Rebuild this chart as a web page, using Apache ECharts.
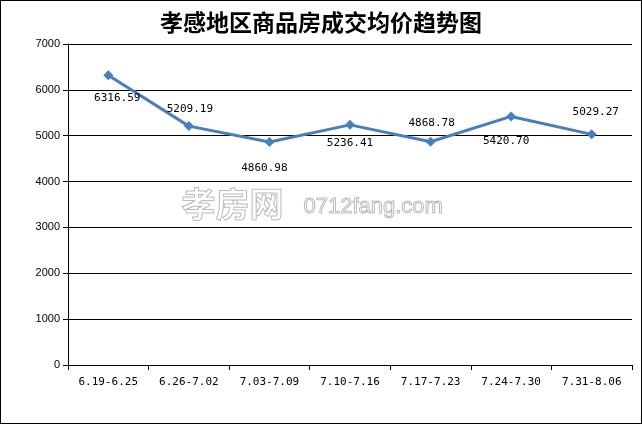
<!DOCTYPE html>
<html><head><meta charset="utf-8">
<script src="https://cdn.jsdelivr.net/npm/echarts@6/dist/echarts.min.js"></script>
<style>html,body{margin:0;padding:0;background:#fff}#c{width:642px;height:424px;box-sizing:border-box;border:1px solid #000}</style>
</head><body><div id="c"></div>
<script>
const categories = ['6.19-6.25','6.26-7.02','7.03-7.09','7.10-7.16','7.17-7.23','7.24-7.30','7.31-8.06'];
const prices = [6316.59, 5209.19, 4860.98, 5236.41, 4868.78, 5420.70, 5029.27];
const yTicks = [0,1000,2000,3000,4000,5000,6000,7000];
const labelPlace = [['bottom',[9,4]],['top',[1,2]],['bottom',[-5,8]],['bottom',[0,0]],['top',[1,0]],['bottom',[-5,6]],['top',[4,-4]]];

const chart = echarts.init(document.getElementById('c'), null, {renderer:'canvas'});
const mono = 'DejaVu Sans Mono';
chart.setOption({
  animation:false,
  backgroundColor:'#fff',
  title:{text:'孝感地区商品房成交均价趋势图', left:'center', top:5,
    textStyle:{fontFamily:'Noto Sans CJK SC', fontSize:23, fontWeight:'bold', color:'#000'}},
  graphic:[
    {type:'text', left:180, top:186, z:-1, style:{text:'孝房网', fontFamily:'Noto Sans CJK SC', fontSize:34, fontWeight:'bold', fill:'rgba(0,0,0,0)', stroke:'#bbb', lineWidth:1}},
    {type:'text', left:302, top:194, z:-1, style:{text:'0712fang.com', fontFamily:'Liberation Sans', fontSize:22, fill:'rgba(0,0,0,0)', stroke:'#bbb', lineWidth:1}}
  ],
  grid:{left:67, right:9, top:43, bottom:58},
  xAxis:{type:'category', data:categories, boundaryGap:true,
    axisLine:{lineStyle:{color:'#000', width:1}},
    axisTick:{show:true, length:5, lineStyle:{color:'#000'}},
    axisLabel:{fontFamily:mono, fontSize:11, color:'#000', margin:12}},
  yAxis:{type:'value', min:yTicks[0], max:yTicks[yTicks.length-1], interval:1000,
    axisLine:{show:true, lineStyle:{color:'#000'}},
    axisTick:{show:true, length:5, lineStyle:{color:'#000'}},
    splitLine:{lineStyle:{color:'#000', width:1}},
    axisLabel:{fontFamily:'Liberation Sans', fontSize:11, color:'#000', margin:8, formatter:v=>String(v)}},
  series:[{type:'line', data:prices.map((v,i)=>({value:v, label:{position:labelPlace[i][0], offset:labelPlace[i][1]}})),
    symbol:'diamond', symbolSize:10,
    lineStyle:{color:'#4a7ebb', width:3},
    itemStyle:{color:'#4a7ebb'},
    label:{show:true, fontFamily:mono, fontSize:11, color:'#000', distance:8,
      formatter:p=>p.value.toFixed(2)}}]
});
</script></body></html>
